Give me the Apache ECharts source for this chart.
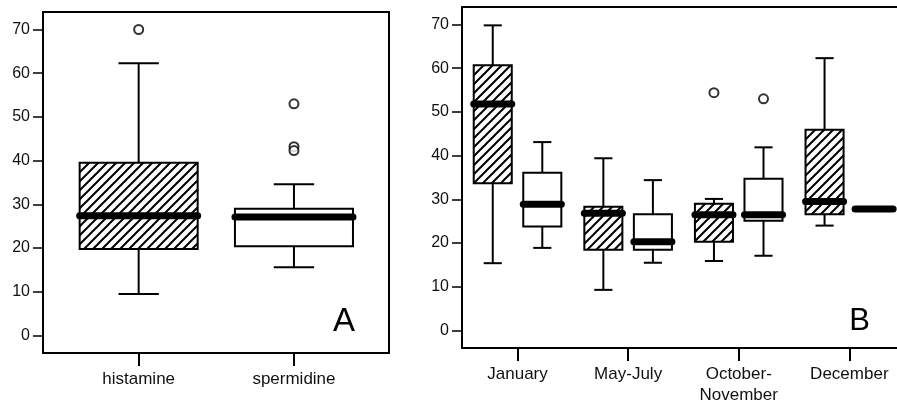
<!DOCTYPE html>
<html>
<head>
<meta charset="utf-8">
<script src="https://cdn.jsdelivr.net/npm/echarts@6/dist/echarts.min.js"></script>
<style>
  html, body { margin: 0; padding: 0; background: #fff; }
  #chart { width: 897px; height: 406px; }
</style>
</head>
<body>
<div id="chart"></div>
<script>
// panel A: all samples
const catsA = ['histamine', 'spermidine'];
// [category, min, Q1, median, Q3, max]
const boxA = [
    [0, 9.5, 19.8, 27.4, 39.5, 62.3],
    [1, 15.6, 20.4, 27.1, 29.0, 34.6]
];
const outliersA = [[0, 70.0], [1, 53.0], [1, 43.2], [1, 42.3]];

// panel B: by season
const catsB = ['January', 'May-July', 'October-\nNovember', 'December'];
const histB = [
    [0, 15.4, 33.7, 51.8, 60.7, 69.8],
    [1, 9.3, 18.5, 26.8, 28.3, 39.4],
    [2, 15.9, 20.3, 26.5, 29.0, 30.1],
    [3, 24.0, 26.6, 29.5, 45.9, 62.3]
];
const sperB = [
    [0, 18.9, 23.8, 28.9, 36.1, 43.1],
    [1, 15.5, 18.5, 20.3, 26.6, 34.4],
    [2, 17.1, 25.1, 26.5, 34.7, 41.9],
    [3, 27.8, 27.8, 27.8, 27.8, 27.8]
];
const outHistB = [[2, 54.4]];
const outSperB = [[2, 53.0]];

const yTicks = [0, 10, 20, 30, 40, 50, 60, 70];

// 斜线填充
const hatch = document.createElement('canvas');
hatch.width = 9;
hatch.height = 9;
const hc = hatch.getContext('2d');
hc.fillStyle = '#fff';
hc.fillRect(0, 0, 9, 9);
hc.strokeStyle = '#000';
hc.lineWidth = 2;
hc.beginPath();
hc.moveTo(-1, 10); hc.lineTo(10, -1);
hc.moveTo(-5, 5); hc.lineTo(5, -5);
hc.moveTo(4, 14); hc.lineTo(14, 4);
hc.stroke();
const hatchFill = { image: hatch, repeat: 'repeat' };

const FONT = '"Liberation Sans", Arial, sans-serif';

function boxRender(offset, halfW, capHalf, fill) {
    return function (params, api) {
        const x = api.value(0) + offset;
        const cx = api.coord([x, 0])[0];
        const l = api.coord([x - halfW, 0])[0];
        const r = api.coord([x + halfW, 0])[0];
        const cl = api.coord([x - capHalf, 0])[0];
        const cr = api.coord([x + capHalf, 0])[0];
        const y = k => api.coord([x, api.value(k)])[1];
        const yMin = y(1), yQ1 = y(2), yMed = y(3), yQ3 = y(4), yMax = y(5);
        const ln = { stroke: '#000', lineWidth: 2 };
        return {
            type: 'group',
            children: [
                { type: 'line', shape: { x1: cx, y1: yQ3, x2: cx, y2: yMax }, style: ln },
                { type: 'line', shape: { x1: cl, y1: yMax, x2: cr, y2: yMax }, style: ln },
                { type: 'line', shape: { x1: cx, y1: yQ1, x2: cx, y2: yMin }, style: ln },
                { type: 'line', shape: { x1: cl, y1: yMin, x2: cr, y2: yMin }, style: ln },
                { type: 'rect', shape: { x: l, y: yQ3, width: r - l, height: yQ1 - yQ3 },
                  style: { fill: fill, stroke: '#000', lineWidth: 2 } },
                { type: 'line', shape: { x1: l, y1: yMed, x2: r, y2: yMed },
                  style: { stroke: '#000', lineWidth: 7, lineCap: 'round' } }
            ]
        };
    };
}

function xAxisBase(grid, min, max, cats, ticks) {
    return {
        type: 'value', gridIndex: grid, position: 'bottom', min: min, max: max,
        axisLine: { show: true, onZero: false, lineStyle: { color: '#000', width: 2 } },
        axisTick: { show: true, customValues: ticks, length: 13, lineStyle: { color: '#000', width: 2 } },
        axisLabel: {
            customValues: ticks, margin: 16, color: '#111', fontSize: 17, fontFamily: FONT, lineHeight: 21,
            formatter: v => cats[Math.round(v)]
        },
        splitLine: { show: false }
    };
}

function frameAxis(type, grid, position, min, max) {
    return {
        type: 'value', gridIndex: grid, position: position, min: min, max: max,
        axisLine: { show: true, onZero: false, lineStyle: { color: '#000', width: 2 } },
        axisTick: { show: false }, axisLabel: { show: false }, splitLine: { show: false }
    };
}

function yAxisBase(grid) {
    return {
        type: 'value', gridIndex: grid, position: 'left', min: -4, max: 74,
        axisLine: { show: true, onZero: false, lineStyle: { color: '#000', width: 2 } },
        axisTick: { show: true, customValues: yTicks, length: 10, lineStyle: { color: '#000', width: 1.5 } },
        axisLabel: { customValues: yTicks, margin: 13, color: '#111', fontSize: 16, fontFamily: FONT },
        splitLine: { show: false }
    };
}

const outlierStyle = { color: '#fff', borderColor: '#000', borderWidth: 2 };

const myChart = echarts.init(document.getElementById('chart'));
const option = {
    animation: false,
    backgroundColor: '#fff',
    grid: [
        { left: 43, top: 12, width: 346, height: 341 },
        { left: 462, top: 7, width: 435, height: 344 }
    ],
    xAxis: [
        xAxisBase(0, -0.616, 1.612, catsA, [0, 1]),
        frameAxis('x', 0, 'top', -0.616, 1.612),
        xAxisBase(1, -0.502, 3.431, catsB, [0, 1, 2, 3]),
        frameAxis('x', 1, 'top', -0.502, 3.431)
    ],
    yAxis: [
        yAxisBase(0),
        frameAxis('y', 0, 'right', -4, 74),
        yAxisBase(1)
    ],
    series: [
        {
            type: 'custom', xAxisIndex: 0, yAxisIndex: 0, data: boxA,
            renderItem: function (params, api) {
                const fill = api.value(0) === 0 ? hatchFill : '#fff';
                return boxRender(0, 0.38, 0.13, fill)(params, api);
            }
        },
        {
            type: 'scatter', xAxisIndex: 0, yAxisIndex: 0, data: outliersA,
            symbol: 'circle', symbolSize: 9, itemStyle: outlierStyle
        },
        {
            type: 'custom', xAxisIndex: 2, yAxisIndex: 2, data: histB,
            renderItem: boxRender(-0.224, 0.172, 0.082, hatchFill)
        },
        {
            type: 'custom', xAxisIndex: 2, yAxisIndex: 2, data: sperB,
            renderItem: boxRender(0.224, 0.172, 0.082, '#fff')
        },
        {
            type: 'scatter', xAxisIndex: 2, yAxisIndex: 2,
            data: outHistB.map(d => [d[0] - 0.224, d[1]]),
            symbol: 'circle', symbolSize: 9, itemStyle: outlierStyle
        },
        {
            type: 'scatter', xAxisIndex: 2, yAxisIndex: 2,
            data: outSperB.map(d => [d[0] + 0.224, d[1]]),
            symbol: 'circle', symbolSize: 9, itemStyle: outlierStyle
        }
    ],
    graphic: [
        { type: 'text', right: 542, top: 305, style: { text: 'A', font: '33px ' + FONT, fill: '#000' } },
        { type: 'text', right: 27, top: 306, style: { text: 'B', font: '31px ' + FONT, fill: '#000' } }
    ]
};
myChart.setOption(option);
window.addEventListener('resize', () => {
    myChart.resize();
});
</script>
</body>
</html>
